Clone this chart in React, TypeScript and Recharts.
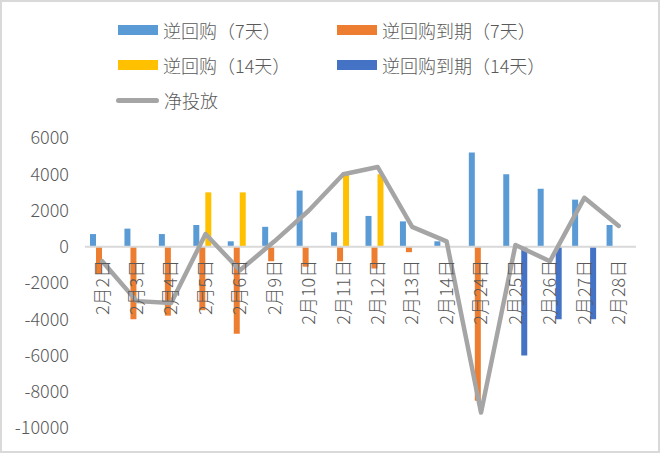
import React from 'react';
import { ComposedChart, Bar, Line, XAxis, YAxis, ReferenceLine } from 'recharts';

// Trading days
const categories = [
  '2月2日', '2月3日', '2月4日', '2月5日', '2月6日', '2月9日', '2月10日', '2月11日',
  '2月12日', '2月13日', '2月14日', '2月24日', '2月25日', '2月26日', '2月27日', '2月28日',
];

// 逆回购（7天）
const repo7 = [700, 1000, 700, 1200, 300, 1100, 3100, 800, 1700, 1400, 300, 5200, 4000, 3200, 2600, 1200];
// 逆回购到期（7天）
const maturity7 = [-1500, -4000, -3800, -3500, -4800, -800, -1100, -800, -1200, -300, 0, -8500, 0, 0, 0, 0];
// 逆回购（14天）
const repo14 = [0, 0, 0, 3000, 3000, 0, 0, 4000, 4000, 0, 0, 0, 0, 0, 0, 0];
// 逆回购到期（14天）
const maturity14 = [0, 0, 0, 0, 0, 0, 0, 0, 0, 0, 0, 0, -6000, -4000, -4000, 0];
// 净投放
const netInjection = [-800, -3000, -3100, 700, -1300, 300, 2000, 4000, 4400, 1100, 300, -9150, 100, -800, 2700, 1150];

const yTicks = [-10000, -8000, -6000, -4000, -2000, 0, 2000, 4000, 6000];

const series = [
  { key: 'repo7', name: '逆回购（7天）', color: '#5b9bd5' },
  { key: 'maturity7', name: '逆回购到期（7天）', color: '#ed7d31' },
  { key: 'repo14', name: '逆回购（14天）', color: '#ffc000' },
  { key: 'maturity14', name: '逆回购到期（14天）', color: '#4472c4' },
];

const data = categories.map((name, i) => ({
  name,
  repo7: repo7[i],
  maturity7: maturity7[i],
  repo14: repo14[i],
  maturity14: maturity14[i],
  net: netInjection[i],
}));

const FONT = '"Noto Sans CJK SC", "Noto Sans", sans-serif';
const TEXT = '#595959';
const WEIGHT = 300;

const WIDTH = 660;
const HEIGHT = 453;
const MARGIN = { top: 138, right: 24, bottom: 24, left: 0 };
const X_AXIS_H = 1;
const PLOT_H = HEIGHT - MARGIN.top - MARGIN.bottom - X_AXIS_H;
const Y_MIN = yTicks[0];
const Y_MAX = yTicks[yTicks.length - 1];
// category labels sit just under the zero line
const ZERO_Y = MARGIN.top + PLOT_H * (Y_MAX / (Y_MAX - Y_MIN));

const CategoryTick = (props: any) => {
  const { x, payload } = props;
  const y = ZERO_Y + 13;
  return (
    <text
      x={x}
      y={y}
      dy="0.35em"
      transform={`rotate(-90 ${x} ${y})`}
      textAnchor="end"
      fill={TEXT}
      fontSize={18}
      fontWeight={WEIGHT}
      fontFamily={FONT}
    >
      {payload.value}
    </text>
  );
};

const LegendItem = ({ color, label, line }: { color: string; label: string; line?: boolean }) => (
  <div style={{ display: 'flex', alignItems: 'center' }}>
    <div
      style={{
        width: line ? 43 : 40,
        height: line ? 5 : 10,
        borderRadius: line ? 3 : 0,
        background: color,
        marginRight: 5,
        marginLeft: line ? -2 : 0,
      }}
    />
    <span
      style={{
        fontSize: 18,
        lineHeight: 1,
        color: TEXT,
        fontFamily: FONT,
        fontWeight: WEIGHT,
        whiteSpace: 'nowrap',
      }}
    >
      {label}
    </span>
  </div>
);

const rowStyle: React.CSSProperties = { display: 'flex', height: 35, alignItems: 'center' };

const App = () => {
  return (
    <div
      style={{
        position: 'absolute',
        left: 0,
        top: 0,
        width: WIDTH,
        height: HEIGHT,
        boxSizing: 'border-box',
        border: '2px solid #d9d9d9',
        background: '#fff',
        overflow: 'hidden',
      }}
    >
      <div style={{ position: 'absolute', left: 116, top: 10.5, width: 440 }}>
        <div style={rowStyle}>
          <div style={{ width: 219 }}><LegendItem color={series[0].color} label={series[0].name} /></div>
          <LegendItem color={series[1].color} label={series[1].name} />
        </div>
        <div style={rowStyle}>
          <div style={{ width: 219 }}><LegendItem color={series[2].color} label={series[2].name} /></div>
          <LegendItem color={series[3].color} label={series[3].name} />
        </div>
        <div style={rowStyle}>
          <LegendItem color="#a5a5a5" label="净投放" line />
        </div>
      </div>
      <div style={{ position: 'absolute', left: -2, top: -2 }}>
        <ComposedChart width={WIDTH} height={HEIGHT} data={data} margin={MARGIN} barGap={0} barSize={6}>
          <XAxis
            dataKey="name"
            height={X_AXIS_H}
            axisLine={false}
            tickLine={false}
            interval={0}
            tick={<CategoryTick />}
          />
          <YAxis
            width={85}
            domain={[Y_MIN, Y_MAX]}
            ticks={yTicks}
            axisLine={false}
            tickLine={false}
            tickSize={0}
            tickMargin={16}
            tick={{ fill: TEXT, fontSize: 18, fontFamily: FONT, fontWeight: WEIGHT }}
          />
          {series.map((s) => (
            <Bar key={s.key} dataKey={s.key} name={s.name} fill={s.color} isAnimationActive={false} />
          ))}
          <ReferenceLine y={0} stroke="#d9d9d9" strokeWidth={2} />
          <Line
            type="linear"
            dataKey="net"
            name="净投放"
            stroke="#a5a5a5"
            strokeWidth={4.5}
            strokeLinejoin="round"
            strokeLinecap="round"
            dot={false}
            activeDot={false}
            isAnimationActive={false}
          />
        </ComposedChart>
      </div>
    </div>
  );
};

export default App;
